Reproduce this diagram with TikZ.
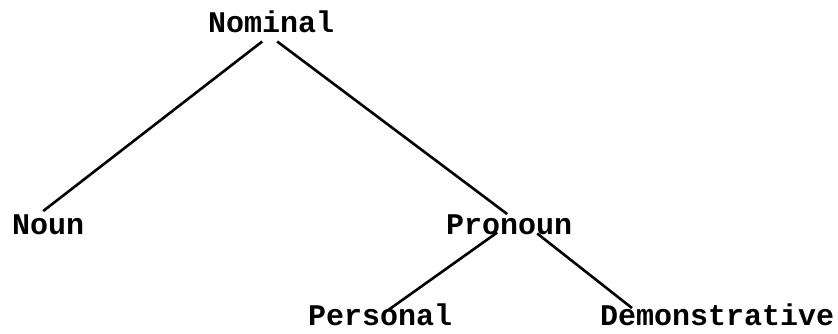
\documentclass[tikz,border=0pt]{standalone}
\usepackage{fontspec}
\setmonofont{Liberation Mono}
\usetikzlibrary{positioning}

\begin{document}
\begin{tikzpicture}[x=1pt,y=-1pt,
    word/.style={inner sep=0pt,anchor=base west,
      font=\ttfamily\bfseries\fontsize{30}{30}\selectfont},
    branch/.style={line width=2.6pt}]
  \useasboundingbox (0,0) rectangle (838,334);

  \node[word] (nominal) at (208,33) {Nominal};
  \node[word] (noun) at (12,234) {Noun};
  \node[word] (pronoun) at (446,234) {Pronoun};
  \node[word] (personal) at (308,325) {Personal};
  \node[word] (demonstr) at (600,325) {Demonstrative};

  \draw[branch] ([shift={(-9,8)}]nominal.south) --
    ([shift={(-5,-3)}]noun.north);
  \draw[branch] ([shift={(6,8)}]nominal.south) --
    ([shift={(-2,0)}]pronoun.north);
  \draw[branch] ([shift={(-12,-2)}]pronoun.south) --
    ([shift={(8,7)}]personal.north);
  \draw[branch] ([shift={(28,-1)}]pronoun.south) --
    ([shift={(32,5)}]demonstr.north west);
\end{tikzpicture}
\end{document}
